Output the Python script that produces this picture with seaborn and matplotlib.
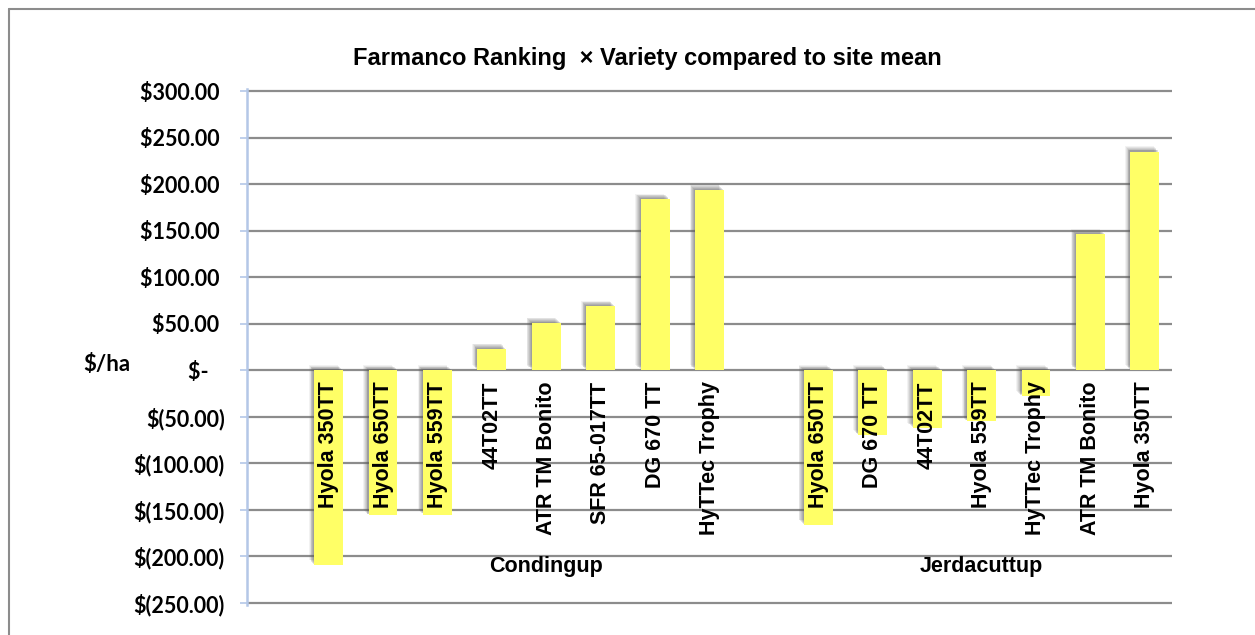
import matplotlib
matplotlib.use("Agg")
import matplotlib.pyplot as plt
import matplotlib.patheffects as pe
from matplotlib.lines import Line2D
import seaborn as sns
import pandas as pd

# ---------------- data ----------------
title = "Farmanco Ranking  \u00d7 Variety compared to site mean"
y_label = "$/ha"
groups = ["Condingup", "Jerdacuttup"]
condingup_varieties = ["Hyola 350TT", "Hyola 650TT", "Hyola 559TT", "44T02TT",
                       "ATR TM Bonito", "SFR 65-017TT", "DG 670 TT", "HyTTec Trophy"]
condingup_values = [-209, -156, -155, 23, 51, 69, 184, 194]
jerdacuttup_varieties = ["Hyola 650TT", "DG 670 TT", "44T02TT", "Hyola 559TT",
                         "HyTTec Trophy", "ATR TM Bonito", "Hyola 350TT"]
jerdacuttup_values = [-166, -70, -62, -55, -28, 146, 235]
y_ticks = list(range(-250, 301, 50))

# ---------------- table ----------------
rows = []
for v, val in zip(condingup_varieties, condingup_values):
    rows.append({"key": f"Condingup|{v}", "variety": v, "value": val})
for v, val in zip(jerdacuttup_varieties, jerdacuttup_values):
    rows.append({"key": f"Jerdacuttup|{v}", "variety": v, "value": val})
df = pd.DataFrame(rows)
order = (["_gap0"] + [f"Condingup|{v}" for v in condingup_varieties]
         + ["_gap1"] + [f"Jerdacuttup|{v}" for v in jerdacuttup_varieties])

sns.set_theme(style="white")
plt.rcParams["font.family"] = ["Liberation Sans", "DejaVu Sans"]

W, H = 1255, 635
fig = plt.figure(figsize=(W / 100, H / 100), dpi=100)
fig.patch.set_facecolor("white")

px_per_unit = 512 / 550
pad = 2
top_px = 91 - pad * px_per_unit
bot_px = 603 + pad * px_per_unit
ax = fig.add_axes([247 / W, 1 - bot_px / H, (1172 - 247) / W, (bot_px - top_px) / H])

sns.barplot(data=df, x="key", y="value", order=order, color="#FFFF66",
            saturation=1, width=0.53, ax=ax, zorder=3)

shadow_layers = [pe.SimplePatchShadow(offset=(-o, o), shadow_rgbFace="#5a5a5a", alpha=a)
                 for o, a in [(3.8, 0.08), (3.2, 0.10), (2.6, 0.12), (2.0, 0.14),
                              (1.4, 0.16), (0.8, 0.18)]]
for p in ax.patches:
    p.set_path_effects(shadow_layers + [pe.Normal()])
    p.set_edgecolor("none")

ax.set_xlim(-0.5, len(order) - 0.5)
ax.set_ylim(y_ticks[0] - pad, y_ticks[-1] + pad)
ax.set_xlabel("")
ax.set_ylabel("")
ax.set_xticks([])

def fmt(v):
    if v == 0:
        return "$-   "
    if v < 0:
        return f"$({abs(v):.2f})"
    return f"${v:.2f} "

ax.set_yticks(y_ticks)
ax.set_yticklabels([fmt(v) for v in y_ticks], fontfamily=["Lato", "DejaVu Sans"],
                   fontweight="bold", fontsize=15.5, color="black")
ax.tick_params(axis="y", which="major", left=True, length=5, width=1.2,
               color="#B4C7E7", pad=11)

ax.yaxis.grid(True, color="#8C8C8C", linewidth=1.6, zorder=0)
ax.xaxis.grid(False)
for s in ["top", "right", "bottom"]:
    ax.spines[s].set_visible(False)
ax.spines["left"].set_color("#B4C7E7")
ax.spines["left"].set_linewidth(1.8)
ax.spines["left"].set_zorder(4)

# category labels
for i, key in enumerate(order):
    if key.startswith("_gap"):
        continue
    name = key.split("|", 1)[1]
    ax.annotate(name, xy=(i, 0), xytext=(0, -8), textcoords="offset points",
                rotation=90, ha="center", va="top", fontsize=15.5,
                fontweight="bold", color="black", zorder=5)

# group labels
c_start = order.index(f"Condingup|{condingup_varieties[0]}")
j_start = order.index(f"Jerdacuttup|{jerdacuttup_varieties[0]}")
group_x = [c_start + len(condingup_varieties) / 2,
           j_start + (len(jerdacuttup_varieties) - 1) / 2]
for g, gx in zip(groups, group_x):
    ax.text(gx, -211, g, ha="center", va="center", fontsize=15.5,
            fontweight="bold", color="black", zorder=5)

# y label
fig.text(107 / W, 1 - 364 / H, y_label, ha="center", va="center",
         fontfamily=["Lato", "DejaVu Sans"], fontweight="bold", fontsize=16,
         color="black")

# title
fig.text(647 / W, 1 - 59 / H, title, ha="center", va="center",
         fontsize=17, fontweight="bold", color="black")

# chart border (left and top)
fig.add_artist(Line2D([9 / W, 9 / W], [0, 1 - 9 / H], color="#8C8C8C", linewidth=1.5))
fig.add_artist(Line2D([9 / W, 1], [1 - 9 / H, 1 - 9 / H], color="#8C8C8C", linewidth=1.5))

fig.savefig("out.png", dpi=100, facecolor="white")
